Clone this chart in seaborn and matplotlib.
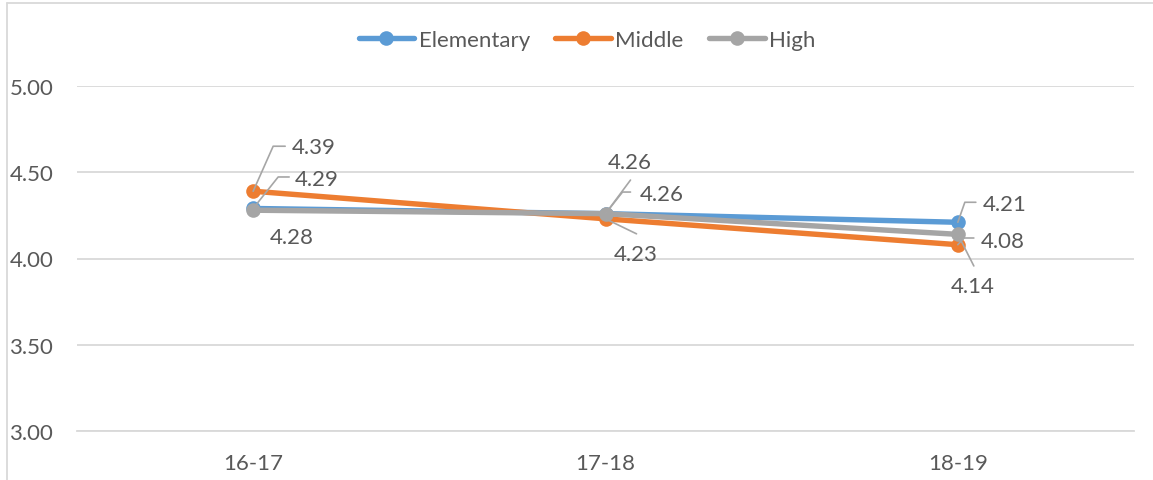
import matplotlib
matplotlib.use("Agg")
import matplotlib.pyplot as plt
import seaborn as sns
import pandas as pd
from matplotlib.lines import Line2D
from matplotlib.transforms import IdentityTransform

# ---- data ----
years = ["16-17", "17-18", "18-19"]
elementary = [4.29, 4.26, 4.21]
middle = [4.39, 4.23, 4.08]
high = [4.28, 4.26, 4.14]
series_names = ["Elementary", "Middle", "High"]
y_ticks = [3.00, 3.50, 4.00, 4.50, 5.00]

# ---- style ----
colors = {"Elementary": "#5B9BD5", "Middle": "#ED7D31", "High": "#A5A5A5"}
text_color = "#595959"
grid_color = "#D9D9D9"
FS = 16

sns.set_style("white")
plt.rcParams["font.family"] = ["Lato", "DejaVu Sans"]

rows = []
for name, vals in zip(series_names, [elementary, middle, high]):
    for yr, v in zip(years, vals):
        rows.append({"year": yr, "value": v, "series": name})
df = pd.DataFrame(rows)

W, H, DPI = 1153, 481, 100
fig = plt.figure(figsize=(W / DPI, H / DPI), dpi=DPI)
ax = fig.add_axes([77 / W, (H - 432) / H, (1134 - 77) / W, (432 - 87) / H])

sns.lineplot(data=df, x="year", y="value", hue="series", hue_order=series_names,
             palette=colors, marker="o", markersize=10.5, markeredgewidth=0,
             linewidth=3.9, sort=False, ax=ax, legend=False)

ax.set_xlim(-0.5, 2.5)
ax.set_ylim(3.0, 5.0)
ax.set_yticks(y_ticks)
ax.set_yticklabels([f"{t:.2f}" for t in y_ticks])
ax.set_xticks(range(len(years)))
ax.set_xticklabels(years)
ax.set_xticks([-0.5, 0.5, 1.5, 2.5], minor=True)
ax.tick_params(axis="y", length=0, pad=17, labelsize=FS, labelcolor=text_color)
ax.tick_params(axis="x", which="major", length=0, pad=15.5, labelsize=FS, labelcolor=text_color)
ax.tick_params(axis="x", which="minor", length=4.5, width=1.2, color=grid_color)
ax.set_xlabel("")
ax.set_ylabel("")
ax.grid(axis="y", color=grid_color, linewidth=1.3)
ax.set_axisbelow(True)
for s in ["top", "right", "left"]:
    ax.spines[s].set_visible(False)
ax.spines["bottom"].set_color(grid_color)
ax.spines["bottom"].set_linewidth(1.3)

# ---- data labels: (series, index) -> (text offset px, leader path offsets px) ----
label_layout = {
    ("Middle", 0): ((61, 44), [(0, 0), (20, 45), (32, 45)]),
    ("Elementary", 0): ((64, 29.5), [(0, 0), (25, 31.5), (36, 31.5)]),
    ("High", 0): ((39, -27), None),
    ("High", 1): ((24, 51.6), [(0, 0), (25, 33.6)]),
    ("Elementary", 1): ((56, 19.6), [(0, 0), (17, 21.6), (25, 21.6)]),
    ("Middle", 1): ((30, -35), [(0, 0), (31, -15)]),
    ("Elementary", 2): ((47, 18), [(0, 0), (7, 20), (18, 20)]),
    ("Middle", 2): ((45, 3.7), [(0, 0), (6, 6.7), (16, 6.7)]),
    ("High", 2): ((15, -51.6), [(0, 0), (16, -31.6)]),
}
data_map = {"Elementary": elementary, "Middle": middle, "High": high}
fig.canvas.draw()
for (name, i), (toff, path) in label_layout.items():
    v = data_map[name][i]
    px, py = ax.transData.transform((i, v))
    ax.annotate(f"{v:.2f}", xy=(i, v), xytext=toff, textcoords="offset pixels",
                ha="center", va="center", fontsize=FS, color=text_color, zorder=6)
    if path:
        xs = [px + dx for dx, dy in path]
        ys = [py + dy for dx, dy in path]
        fig.add_artist(Line2D(xs, ys, transform=IdentityTransform(),
                              color="#A6A6A6", linewidth=1.2, zorder=5))

# ---- legend ----
handles = [Line2D([0], [0], color=colors[n], linewidth=3.9, marker="o",
                  markersize=10.5, markeredgewidth=0) for n in series_names]
fig.legend(handles, series_names, loc="center", bbox_to_anchor=(587 / W, 1 - 41 / H),
           ncol=3, frameon=False, fontsize=FS, labelcolor=text_color,
           handlelength=2.5, handletextpad=0.2, columnspacing=1.15)

# ---- chart frame (partially visible) ----
fig.add_artist(Line2D([7 / W, 1.0], [1 - 4 / H, 1 - 4 / H], transform=fig.transFigure,
                      color=grid_color, linewidth=1.3))
fig.add_artist(Line2D([7 / W, 7 / W], [0, 1 - 4 / H], transform=fig.transFigure,
                      color=grid_color, linewidth=1.3))

fig.savefig("out.png", dpi=DPI)
